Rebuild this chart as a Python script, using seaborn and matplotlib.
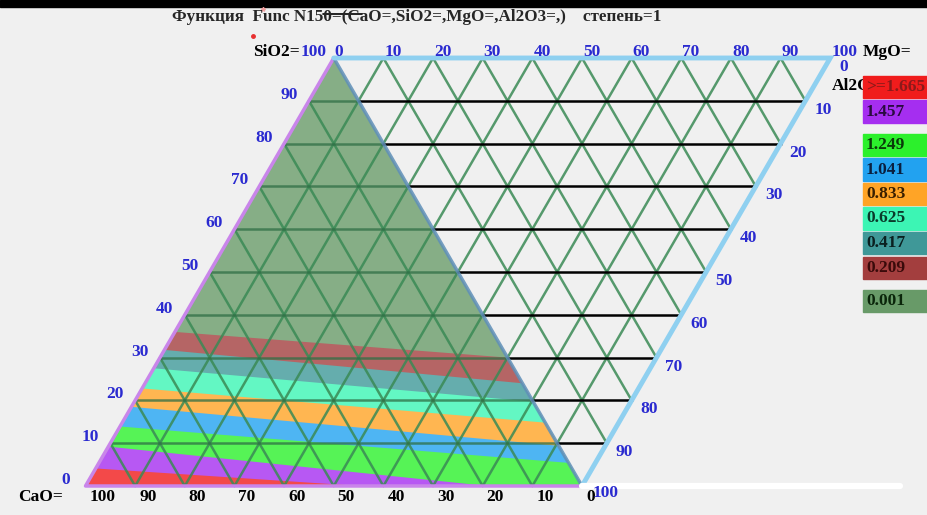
import numpy as np
import pandas as pd
import seaborn as sns
import matplotlib.pyplot as plt
from matplotlib.patches import Rectangle
from matplotlib.colors import to_rgb

# легенда: уровни функции и цвета
levels = ['>=1.665', '1.457', '1.249', '1.041', '0.833', '0.625', '0.417', '0.209', '0.001']
level_colors = ['#f01c1c', '#a52ef0', '#2cf02c', '#22a2f0', '#ffa426',
                '#3cf5b4', '#3f9898', '#a33e3e', '#689a68']
level_text_colors = ['#8b1a1a', '#2a0a40', '#0a3a0a', '#0a2040', '#3a2000',
                     '#0a3a2a', '#0a2020', '#3a0a0a', '#0a250a']

# верхние границы цветных полос (снизу вверх), SiO2 на стороне CaO-SiO2
band_left_sio2 = [4.1, 9.2, 13.9, 18.5, 22.8, 27.5, 31.8, 36.0]
# где кончается граница: на основании (значение CaO) или на правой стороне (значение SiO2)
band_end_side = ['base', 'base', 'right', 'right', 'right', 'right', 'right', 'right']
band_end_value = [44.7, 19.0, 5.4, 9.4, 14.8, 19.7, 24.0, 30.0]

ticks = [0, 10, 20, 30, 40, 50, 60, 70, 80, 90, 100]

BG = '#f0f0f0'
BLUE = '#2a2ad0'
GRID = '#3a8a55'
FONT = 'Liberation Serif'

sns.set_style('white')
plt.rcParams['font.family'] = [FONT, 'DejaVu Serif']


def blend(c, a=0.8):
    r, g, b = to_rgb(c)
    return (a * r + 1 - a, a * g + 1 - a, a * b + 1 - a)


def left_pt(s):
    return s / 2, s


def right_pt(s):
    return 100 - s / 2, s


def base_pt(cao):
    return 100 - cao, 0


fig = plt.figure(figsize=(9.28, 5.15), dpi=100, facecolor=BG)
ax = fig.add_axes([0, 0, 1, 1])
ax.set_facecolor(BG)
ax.set_xlim(-17.22, 169.69)
ax.set_ylim(-6.776, 113.55)
ax.axis('off')

# заливка треугольника CaO-SiO2-MgO
ax.fill([0, 100, 50], [0, 0, 100], color=blend(level_colors[8]), lw=0, zorder=1)
for k in range(len(band_left_sio2) - 1, -1, -1):
    p0 = left_pt(band_left_sio2[k])
    if band_end_side[k] == 'base':
        p1 = base_pt(band_end_value[k])
        poly = [p0, p1, (0, 0)]
    else:
        p1 = right_pt(band_end_value[k])
        poly = [p0, p1, (100, 0), (0, 0)]
    xs, ys = zip(*poly)
    ax.fill(xs, ys, color=blend(level_colors[k]), lw=0, zorder=1)

# сетка
rows = []
for i, t in enumerate(ticks[1:-1]):
    # линии параллельные левой стороне
    rows += [dict(line=f'a{i}', x=t, y=0), dict(line=f'a{i}', x=t + 50, y=100)]
    # линии параллельные правой стороне (левый треугольник)
    rows += [dict(line=f'b{i}', x=t, y=0), dict(line=f'b{i}', x=t / 2, y=t)]
    # линии параллельные правой стороне (правый треугольник)
    rows += [dict(line=f'c{i}', x=t + 50, y=100), dict(line=f'c{i}', x=100 + t / 2, y=t)]
    # горизонтали в левом треугольнике
    rows += [dict(line=f'h{i}', x=t / 2, y=t), dict(line=f'h{i}', x=100 - t / 2, y=t)]
grid = pd.DataFrame(rows)
diag = grid[~grid['line'].str.startswith('h')]
horz = grid[grid['line'].str.startswith('h')]
sns.lineplot(data=diag, x='x', y='y', units='line', estimator=None, sort=False,
             color=GRID, lw=1.8, alpha=0.85, ax=ax, zorder=2)
sns.lineplot(data=horz, x='x', y='y', units='line', estimator=None, sort=False,
             color='#2f6f45', lw=1.8, alpha=0.75, ax=ax, zorder=2)
for t in ticks[1:-1]:
    ax.plot([100 - t / 2, 100 + t / 2], [t, t], color='black', lw=1.8, zorder=2)

# стороны
ax.plot([50, 0, 100], [100, 0, 0], color='#c985ea', lw=2.5, zorder=3)
ax.plot([50, 100], [100, 0], color='#5f8fb8', lw=2.5, alpha=0.85, zorder=3)
ax.plot([50, 150, 100], [100, 100, 0], color='#8fd0f0', lw=3.5, zorder=3,
        solid_joinstyle='miter')
ax.plot([100, 164], [0, 0], color='white', lw=4.5, zorder=3)

tk = dict(fontsize=12.5, fontweight='bold', textcoords='offset pixels', zorder=4)
# SiO2 слева
for t in ticks:
    ax.annotate(str(t), left_pt(t), xytext=(-20, 6), color=BLUE, ha='center', va='center', **tk)
ax.annotate('SiO2=', left_pt(100), xytext=(-34, 6), color='black', ha='right', va='center', **tk)
# CaO снизу
for t in ticks:
    ax.annotate(str(t), base_pt(t), xytext=(4, -11), color='black', ha='left', va='center', **tk)
ax.annotate('CaO=', base_pt(100), xytext=(-22, -11), color='black', ha='right', va='center', **tk)
# MgO сверху
for t in ticks:
    ax.annotate(str(t), (50 + t, 100), xytext=(1, 6), color=BLUE, ha='left', va='center', **tk)
ax.annotate('MgO=', (150, 100), xytext=(32, 6), color='black', ha='left', va='center', **tk)
# Al2O3 справа
for t in ticks[:-1]:
    ax.annotate(str(t), (150 - t / 2, 100 - t), xytext=(9, -9), color=BLUE, ha='left', va='center', **tk)
ax.annotate('100', (100, 0), xytext=(11, -7), color=BLUE, ha='left', va='center', **tk)
ax.annotate('Al2O3', (150, 100), xytext=(2, -28), color='black', ha='left', va='center', **tk)

# заголовок
fig.text(172 / 928, 1 - 17 / 515, 'Функция  Func N150=(CaO=,SiO2=,MgO=,Al2O3=,)    степень=1',
         fontsize=12.3, fontweight='bold', ha='left', va='center')
fig.add_artist(plt.Line2D([323 / 928, 362 / 928], [1 - 14 / 515, 1 - 14 / 515], color='black', lw=1.2))
fig.add_artist(plt.Line2D([253 / 928], [1 - 36 / 515], marker='o', ms=2.5, color='#e83030', lw=0))
fig.add_artist(plt.Line2D([263 / 928], [1 - 9 / 515], marker='*', ms=3, color='#f0a0a0', lw=0))
fig.add_artist(Rectangle((0, 1 - 7 / 515), 1, 7 / 515, color='black', transform=fig.transFigure))

# легенда
for i, (lab, col, tcol) in enumerate(zip(levels, level_colors, level_text_colors)):
    gap = 9 * (i >= 2) + 9 * (i >= 8)
    y_top = 76 + 24.5 * i + gap
    fig.add_artist(Rectangle((863 / 928, 1 - (y_top + 22) / 515), 70 / 928, 22 / 515,
                             color=col, transform=fig.transFigure, zorder=5))
    fig.text(866 / 928, 1 - (y_top + 11) / 515, lab, color=tcol, fontsize=12.5,
             fontweight='bold', ha='left', va='center', zorder=6)

fig.savefig('out.png', dpi=100, facecolor=BG)
